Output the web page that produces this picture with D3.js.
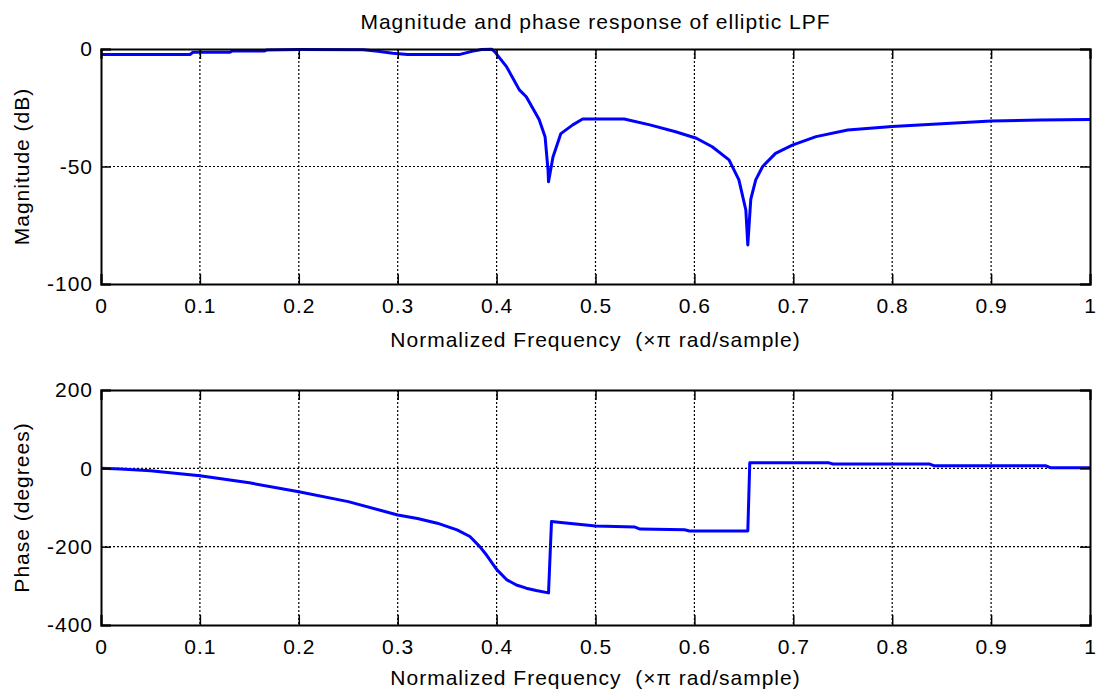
<!DOCTYPE html>
<html>
<head>
<meta charset="utf-8">
<script src="https://cdn.jsdelivr.net/npm/d3@7"></script>
<style>
  body { margin: 0; background: #fff; }
  svg text { font-family: "Liberation Sans", Arial, sans-serif; fill: #000; white-space: pre; }
</style>
</head>
<body>
<svg id="chart" width="1097" height="690"></svg>
<script>
// normalized frequency (x pi rad/sample) and magnitude in dB
var magFreq = [0, 0.09, 0.093, 0.13, 0.133, 0.165, 0.168, 0.2, 0.265, 0.28, 0.295, 0.31, 0.363, 0.375, 0.385, 0.395,
	0.398, 0.41, 0.423, 0.43, 0.443, 0.449, 0.452, 0.4525, 0.457, 0.465, 0.477, 0.487, 0.529, 0.555, 0.581, 0.602,
	0.618, 0.635, 0.645, 0.652, 0.654, 0.657, 0.662, 0.669, 0.682, 0.699, 0.723, 0.755, 0.8, 0.85, 0.9, 0.95, 1.0];
var magDb = [-2.3, -2.3, -1.4, -1.4, -0.85, -0.85, -0.4, -0.2, -0.3, -1.0, -1.8, -2.3, -2.3, -1.0, -0.2, -0.1,
	-1.1, -7.5, -17.4, -20.3, -30, -37.3, -51.5, -56.5, -46, -36, -32.3, -29.8, -29.8, -32.3, -35.2, -38,
	-41.6, -47.2, -55.7, -68.5, -83.4, -64, -55.7, -50, -44.4, -40.9, -37.3, -34.5, -33, -31.8, -30.6, -30.2, -30];

// phase in degrees
var phaseFreq = [0, 0.02, 0.05, 0.1, 0.15, 0.2, 0.25, 0.3, 0.32, 0.34, 0.36, 0.373, 0.383, 0.39, 0.4, 0.41, 0.42, 0.43, 0.44,
	0.4525, 0.4555, 0.465, 0.48, 0.5, 0.54, 0.545, 0.59, 0.595, 0.654, 0.656, 0.736, 0.74, 0.838, 0.842, 0.955, 0.96, 1.0];
var phaseDeg = [0, -2, -6, -19, -37, -60, -85, -119, -128, -140, -157, -174, -200, -222, -258, -284, -298, -306, -312,
	-318, -136, -138, -142, -147, -150, -155, -157, -160, -160, 14, 14, 11, 11, 6.7, 6.7, 1.7, 1.5];

var freqTicks = [0, 0.1, 0.2, 0.3, 0.4, 0.5, 0.6, 0.7, 0.8, 0.9, 1];
var magTicks = [-100, -50, 0];
var phaseTicks = [-400, -200, 0, 200];

var chartTitle = 'Magnitude and phase response of elliptic LPF';
var xLabel = 'Normalized Frequency  (\u00d7\u03c0 rad/sample)';

var svg = d3.select('#chart');
var left = 101, right = 1090;
var FONT = 21;
var SPACING = 1;

function fmt(d)
{
	// plain hyphen minus, as in the original figure
	return d3.format('~g')(d).replace('\u2212', '-');
}

function draw_panel(top, bottom, xs, ys, yDomain, yTicks, yLabel, labelY)
{
	var x = d3.scaleLinear().domain([0, 1]).range([left, right]);
	var y = d3.scaleLinear().domain(yDomain).range([bottom, top]);
	var g = svg.append('g');

	// dotted grid
	g.selectAll('.vgrid').data(freqTicks.slice(1, -1)).enter().append('line')
		.attr('x1', function(d) { return x(d); }).attr('x2', function(d) { return x(d); })
		.attr('y1', top).attr('y2', bottom)
		.attr('stroke', '#000').attr('stroke-width', 1.2).attr('stroke-dasharray', '2,2');
	g.selectAll('.hgrid').data(yTicks.slice(1, -1)).enter().append('line')
		.attr('x1', left).attr('x2', right)
		.attr('y1', function(d) { return y(d); }).attr('y2', function(d) { return y(d); })
		.attr('stroke', '#000').attr('stroke-width', 1.2).attr('stroke-dasharray', '2,2');

	// the curve
	var pts = xs.map(function(f, i) { return [f, ys[i]]; });
	g.append('path')
		.datum(pts)
		.attr('fill', 'none')
		.attr('stroke', '#0000ff')
		.attr('stroke-width', 3)
		.attr('stroke-linejoin', 'round')
		.attr('d', d3.line().x(function(d) { return x(d[0]); }).y(function(d) { return y(d[1]); }));

	// axes, ticks pointing inward like matlab
	var ax = g.append('g').attr('transform', 'translate(0,' + bottom + ')')
		.call(d3.axisBottom(x).tickValues(freqTicks).tickSize(-10).tickPadding(14).tickFormat(fmt));
	var at = g.append('g').attr('transform', 'translate(0,' + top + ')')
		.call(d3.axisTop(x).tickValues(freqTicks).tickSize(-10).tickFormat(''));
	var al = g.append('g').attr('transform', 'translate(' + left + ',0)')
		.call(d3.axisLeft(y).tickValues(yTicks).tickSize(-10).tickPadding(8).tickFormat(fmt));
	var ar = g.append('g').attr('transform', 'translate(' + right + ',0)')
		.call(d3.axisRight(y).tickValues(yTicks).tickSize(-10).tickFormat(''));

	[ax, at, al, ar].forEach(function(a) {
		a.select('.domain').attr('stroke', '#000').attr('stroke-width', 2);
		a.selectAll('.tick line').attr('stroke', '#000').attr('stroke-width', 1.5);
		a.selectAll('.tick text')
			.attr('font-size', FONT)
			.attr('letter-spacing', SPACING)
			.attr('font-family', '"Liberation Sans", Arial, sans-serif')
			.attr('fill', '#000');
	});

	g.append('text')
		.attr('x', (left + right) / 2)
		.attr('y', labelY)
		.attr('text-anchor', 'middle')
		.attr('font-size', FONT)
		.attr('letter-spacing', SPACING)
		.text(xLabel);

	g.append('text')
		.attr('transform', 'translate(29,' + (top + bottom) / 2 + ') rotate(-90)')
		.attr('text-anchor', 'middle')
		.attr('font-size', FONT)
		.attr('letter-spacing', SPACING)
		.text(yLabel);
}

draw_panel(49, 284, magFreq, magDb, [-100, 0], magTicks, 'Magnitude (dB)', 347);
draw_panel(390, 625, phaseFreq, phaseDeg, [-400, 200], phaseTicks, 'Phase (degrees)', 685);

svg.append('text')
	.attr('x', (left + right) / 2)
	.attr('y', 29)
	.attr('text-anchor', 'middle')
	.attr('font-size', FONT)
	.attr('letter-spacing', SPACING)
	.text(chartTitle);
</script>
</body>
</html>
